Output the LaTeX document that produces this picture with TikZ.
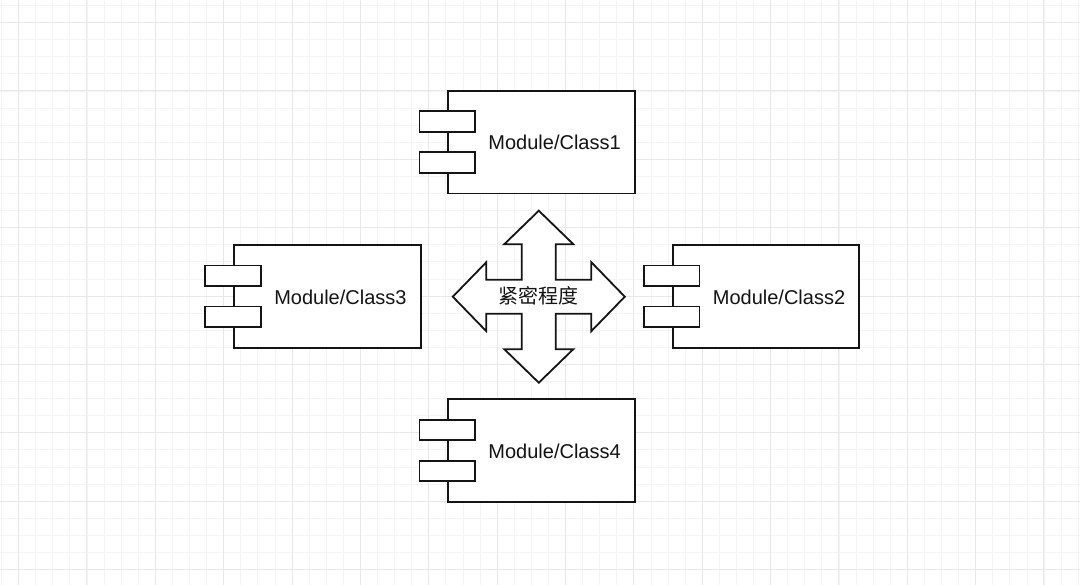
\documentclass[tikz,border=0pt]{standalone}
\usepackage{fontspec}
\setmainfont{Liberation Sans}
\newfontfamily\cjkfont{Noto Sans CJK SC}
\definecolor{minorgrid}{HTML}{F4F4F4}
\definecolor{majorgrid}{HTML}{E8E8E8}
\definecolor{ink}{HTML}{141414}
\tikzset{
  minorline/.style={draw=minorgrid, line width=0.8pt},
  majorline/.style={draw=majorgrid, line width=1pt},
  compbody/.style={draw=ink, line width=1.8pt, fill=white, rectangle,
    minimum width=186.7pt, minimum height=102.5pt, inner sep=0pt},
  compport/.style={draw=ink, line width=1.8pt, fill=white, rectangle,
    minimum width=55.6pt, minimum height=20.6pt, inner sep=0pt},
  complabel/.style={font=\fontsize{20}{24}\selectfont, text=ink, inner sep=0pt},
  bigarrow/.style={draw=ink, line width=1.8pt, fill=white, line join=miter},
}
\begin{document}
\begin{tikzpicture}[x=1pt,y=-1pt]
\useasboundingbox (0,0) rectangle (1080,585);
\fill[white] (0,0) rectangle (1080,585);
% grid
\foreach \k in {0,...,63} \draw[minorline] ({1.5+17.09*\k},0) -- ++(0,585);
\foreach \k in {0,...,34} \draw[minorline] (0,{5.5+17.09*\k}) -- ++(1080,0);
\foreach \k in {1,5,...,61} \draw[majorline] ({1.5+17.09*\k},0) -- ++(0,585);
\foreach \k in {1,5,...,33} \draw[majorline] (0,{5.5+17.09*\k}) -- ++(1080,0);

% components
\foreach \n/\cx/\cy/\t in {m1/541.6/142.2/Module\slash Class1,
                           m2/766.0/296.4/Module\slash Class2,
                           m3/327.4/296.4/Module\slash Class3,
                           m4/541.6/450.5/Module\slash Class4}{
  \node[compbody] (\n) at (\cx,\cy) {};
  \node[compport] (\n pa) at ([yshift=20.5pt]\n.west) {};
  \node[compport] (\n pb) at ([yshift=-20.5pt]\n.west) {};
  \node[complabel] (\n t) at ([xshift=13pt,yshift=-0.5pt]\n.center) {\t};
}

% four-way arrow
\coordinate (c) at (538.8,296.7);
\draw[bigarrow] (c)
  ++(0,-86) coordinate (tipN)
  -- ++(34.5,33.5) -- ++(-17.5,0) -- ++(0,35.5) -- ++(35.5,0)
  -- ++(0,-17.5) -- ++(33.5,34.5) coordinate (tipE)
  -- ++(-33.5,34.5) -- ++(0,-17.5) -- ++(-35.5,0) -- ++(0,35.5)
  -- ++(17.5,0) -- ++(-34.5,33.5) coordinate (tipS)
  -- ++(-34.5,-33.5) -- ++(17.5,0) -- ++(0,-35.5) -- ++(-35.5,0)
  -- ++(0,17.5) -- ++(-33.5,-34.5) coordinate (tipW)
  -- ++(33.5,-34.5) -- ++(0,17.5) -- ++(35.5,0) -- ++(0,-35.5)
  -- ++(-17.5,0) -- cycle;
\node[complabel, font=\cjkfont\fontsize{20}{24}\selectfont] (ct) at ([yshift=1pt]c) {紧密程度};
\end{tikzpicture}
\end{document}
